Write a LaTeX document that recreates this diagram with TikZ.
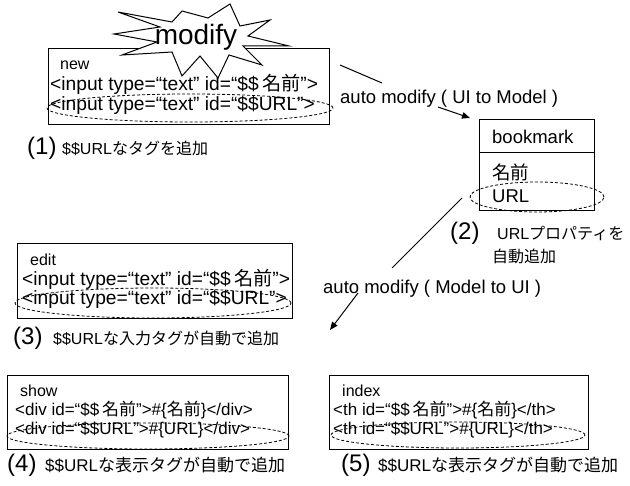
\documentclass[tikz,border=0pt]{standalone}
\usepackage{fontspec}
\setmainfont{Liberation Sans}
\newfontfamily\jp{Noto Sans CJK JP}
\usetikzlibrary{arrows.meta}
\begin{document}
\begin{tikzpicture}[x=1pt,y=-1pt,
  box/.style={draw,line width=1pt,inner sep=0,anchor=north west},
  oval/.style={draw,dash pattern=on 3pt off 2pt,line width=0.8pt},
  code/.style={anchor=base west,inner sep=0,font=\fontsize{19.2}{20}\selectfont},
  codem/.style={anchor=base west,inner sep=0,font=\fontsize{18.5}{20}\selectfont},
  codes/.style={anchor=base west,inner sep=0,font=\fontsize{17}{19}\selectfont},
  small/.style={anchor=base west,inner sep=0,font=\fontsize{16}{18}\selectfont},
  num/.style={anchor=base west,inner sep=0,font=\fontsize{24}{26}\selectfont},
  lbl/.style={anchor=base west,inner sep=0,font=\fontsize{16}{18}\selectfont},
  lblb/.style={anchor=base west,inner sep=0,font=\fontsize{17}{19}\selectfont},
  conn/.style={line width=1pt},
  arr/.style={line width=1pt,-{Triangle[length=8pt,width=6.5pt]}}
]
\useasboundingbox (0,0) rectangle (630,486);

% ---------- new ----------
\node[box,minimum width=281pt,minimum height=76pt] (newbox) at (48,48) {};
\node[small] (newt) at (60,70) {new};
\node[code] (new1) at (50,91) {<input type=“text” id=“\$\$\,{\jp 名前}”>};
\node[code] (new2) at (50,111) {<input type=“text” id=“\$\$URL”>};
\draw[oval] (190,108) ellipse [x radius=143pt, y radius=14pt];

% starburst
\draw[fill=white,line width=1pt,line join=miter]
  (118,12) -- (160,27) -- (114,34) -- (157,42) -- (122,55) -- (172,52)
  -- (182,76) -- (200,56) -- (218,78) -- (229,55) -- (262,65) -- (243,46)
  -- (289,46) -- (248,36) -- (270,20) -- (240,26) -- (230,4) -- (208,18)
  -- (182,11) -- (172,22) -- cycle;
\node[inner sep=0,font=\fontsize{28}{30}\selectfont] (modify) at (196,37) {modify};

\node[num] (n1) at (27,155) {(1)};
\node[lbl] (t1) at (62,155) {\$\$URL{\jp なタグを追加}};

% ---------- connector UI -> Model ----------
\coordinate (a1) at (340,65);
\coordinate (a2) at (382,83);
\coordinate (a3) at (438,107);
\coordinate (a4) at (470,118);
\draw[conn] (a1) -- (a2);
\node[codem] (lab1) at (340,104) {auto modify ( UI to Model )};
\draw[arr] (a3) -- (a4);

% ---------- bookmark ----------
\node[box,minimum width=115pt,minimum height=91pt] (bm) at (479,119) {};
\draw[line width=1pt] ([yshift=-34pt]bm.north west) -- ([yshift=-34pt]bm.north east);
\node[codem] (bmt) at (492,144) {bookmark};
\node[codem] (bm1) at (492,180) {\jp 名前};
\node[codem] (bm2) at (492,203) {URL};
\draw[oval] (537,197) ellipse [x radius=67pt, y radius=15pt];

\node[num] (n2) at (450,240) {(2)};
\node[lbl] (t2) at (497,240) {URL{\jp プロパティを}};
\node[lbl] (t2b) at (492,263) {\jp 自動追加};

% ---------- connector Model -> UI ----------
\coordinate (b1) at (462,198);
\coordinate (b2) at (392,268);
\coordinate (b3) at (358,293);
\coordinate (b4) at (330,330);
\draw[conn] (b1) -- (b2);
\node[codem] (lab2) at (323,294) {auto modify ( Model to UI )};
\draw[arr] (b3) -- (b4);

% ---------- edit ----------
\node[box,minimum width=275pt,minimum height=75pt] (editbox) at (17,243) {};
\node[small] (editt) at (30,266) {edit};
\node[code] (edit1) at (22,286) {<input type=“text” id=“\$\$\,{\jp 名前}”>};
\node[code] (edit2) at (22,305) {<input type=“text” id=“\$\$URL”>};
\draw[oval] (153,303) ellipse [x radius=138pt, y radius=15pt];

\node[num] (n3) at (13,345) {(3)};
\node[lbl] (t3) at (53,345) {\$\$URL{\jp な入力タグが自動で追加}};

% ---------- show ----------
\node[box,minimum width=281pt,minimum height=74pt] (showbox) at (7,375) {};
\node[small] (showt) at (20,397) {show};
\node[codes] (show1) at (15,416) {<div id=“\$\$\,{\jp 名前}”>\#\{{\jp 名前}\}</div>};
\node[codes] (show2) at (15,435) {<div id=“\$\$URL”>\#\{URL\}</div>};
\draw[oval] (148,436) ellipse [x radius=141pt, y radius=13pt];

\node[num] (n4) at (7,472) {(4)};
\node[lblb] (t4) at (45,472) {\$\$URL{\jp な表示タグが自動で追加}};

% ---------- index ----------
\node[box,minimum width=259pt,minimum height=74pt] (indexbox) at (329,375) {};
\node[small] (indext) at (342,397) {index};
\node[codes] (index1) at (333,416) {<th id=“\$\$\,{\jp 名前}”>\#\{{\jp 名前}\}</th>};
\node[codes] (index2) at (333,435) {<th id=“\$\$URL”>\#\{URL\}</th>};
\draw[oval] (458,435) ellipse [x radius=127pt, y radius=13pt];

\node[num] (n5) at (341,472) {(5)};
\node[lblb] (t5) at (378,472) {\$\$URL{\jp な表示タグが自動で追加}};
\end{tikzpicture}
\end{document}
